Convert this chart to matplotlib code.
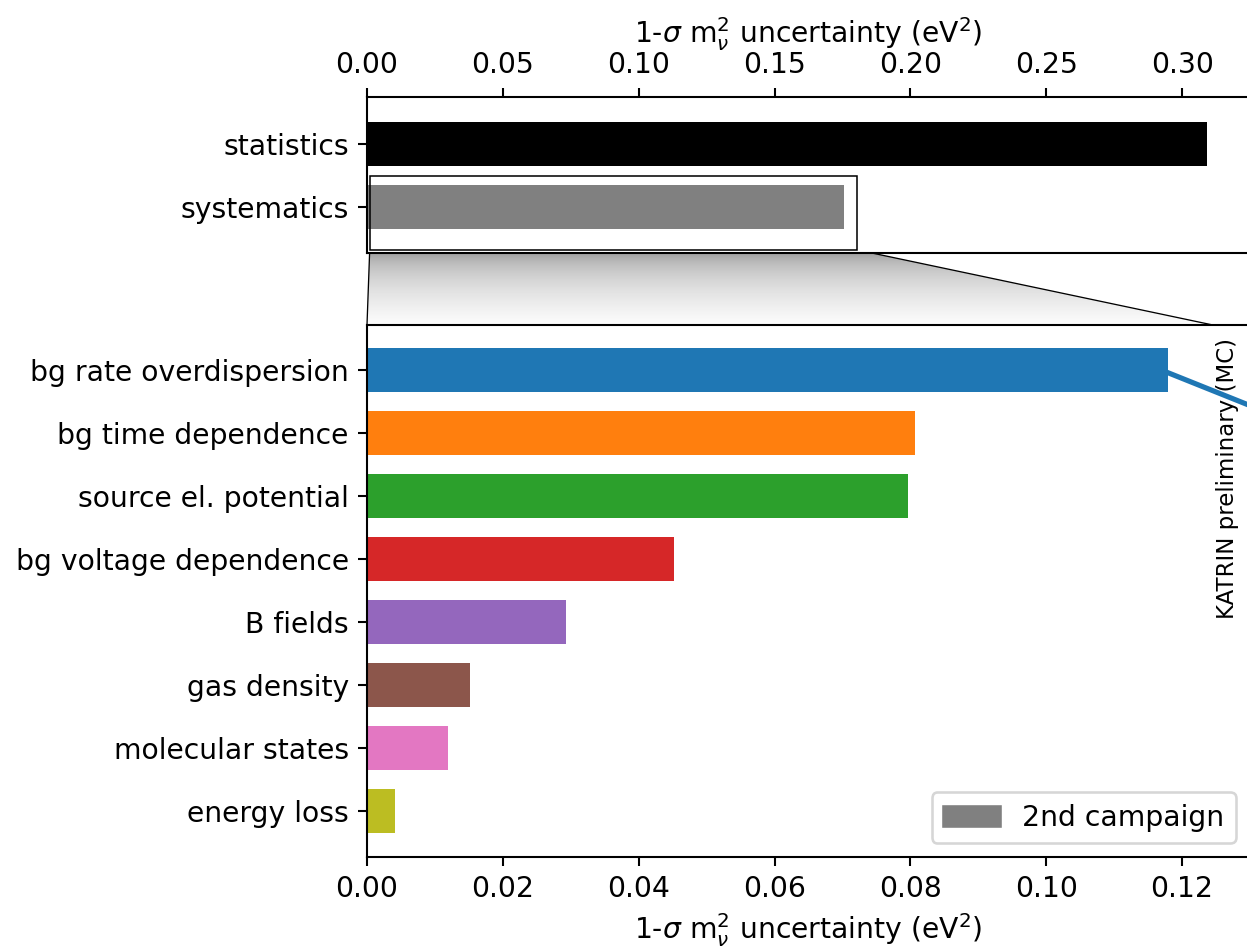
import numpy as np
import matplotlib.pyplot as plt
from matplotlib.patches import Rectangle, Polygon, Patch

# values
top_labels = ["statistics", "systematics"]
top_values = [0.3093, 0.1756]
top_colors = ["black", "gray"]

sys_labels = ["bg rate overdispersion", "bg time dependence", "source el. potential",
              "bg voltage dependence", "B fields", "gas density",
              "molecular states", "energy loss"]
sys_values = [0.1180, 0.0807, 0.0797, 0.0452, 0.0293, 0.0152, 0.0119, 0.0041]
sys_colors = ["C0", "C1", "C2", "C3", "C4", "C5", "C6", "C8"]

top_ticks = [0.00, 0.05, 0.10, 0.15, 0.20, 0.25, 0.30]
bottom_ticks = [0.00, 0.02, 0.04, 0.06, 0.08, 0.10, 0.12]

xlabel = r"1-$\sigma$ m$_{\nu}^{2}$ uncertainty (eV$^{2}$)"

plt.rcParams["font.size"] = 10.9

dpi = 187
fig = plt.figure(figsize=(1247 / dpi, 952 / dpi), dpi=dpi)

ax_top = fig.add_axes([0.2943, 0.7342, 0.7081, 0.1639])
ax_bot = fig.add_axes([0.2943, 0.0998, 0.7081, 0.5588])

# top panel: statistics vs systematics
y_top = np.arange(len(top_labels))
ax_top.barh(y_top, top_values, height=0.7, color=top_colors)
ax_top.set_yticks(y_top)
ax_top.set_yticklabels(top_labels)
ax_top.set_ylim(1.73, -0.75)
ax_top.set_xlim(0, 0.325)
ax_top.set_xticks(top_ticks)
ax_top.xaxis.tick_top()
ax_top.xaxis.set_label_position("top")
ax_top.set_xlabel(xlabel, labelpad=3)

# box around the systematics bar
box = Rectangle((0.001, 0.51), 0.1794, 1.17, fill=False,
                edgecolor="black", linewidth=0.6, zorder=3)
ax_top.add_patch(box)

# bottom panel: breakdown of systematics
y_bot = np.arange(len(sys_labels))
ax_bot.barh(y_bot, sys_values, height=0.7, color=sys_colors)
ax_bot.set_yticks(y_bot)
ax_bot.set_yticklabels(sys_labels)
ax_bot.set_ylim(7.73, -0.71)
ax_bot.set_xlim(0, 0.13)
ax_bot.set_xticks(bottom_ticks)
ax_bot.set_xlabel(xlabel, labelpad=3)
ax_bot.legend(handles=[Patch(color="gray", label="2nd campaign")], loc="lower right")

# line leaving the largest bar
ax_bot.plot([sys_values[0], 0.14], [0.05, 1.0], color="C0", linewidth=2, clip_on=False)

ax_bot.text(0.961, 0.975, "KATRIN preliminary (MC)", transform=ax_bot.transAxes,
            rotation=90, ha="left", va="top", fontsize=8.8)

# zoom trapezoid with gradient
fig.canvas.draw()
to_fig = fig.transFigure.inverted()
p_tl = to_fig.transform(ax_top.transData.transform((0.001, 1.68)))
p_tr = to_fig.transform(ax_top.transData.transform((0.1804, 1.68)))
p_br = to_fig.transform(ax_bot.transAxes.transform((0.958, 1.0)))
p_bl = to_fig.transform(ax_bot.transAxes.transform((0.0, 1.0)))
verts = np.array([p_tl, p_tr, p_br, p_bl])

ov = fig.add_axes([0, 0, 1, 1], zorder=-1)
ov.set_xlim(0, 1)
ov.set_ylim(0, 1)
ov.axis("off")
t = np.linspace(0, 1, 200)[:, None]
shade = 0.42 + 0.57 * t ** 0.35
grad = np.repeat(shade, 2, axis=1)
img = ov.imshow(grad, cmap="gray", vmin=0, vmax=1, aspect="auto",
                extent=[verts[:, 0].min(), verts[:, 0].max(), p_bl[1], p_tl[1]],
                origin="upper")
poly = Polygon(verts, closed=True, facecolor="none", edgecolor="black", linewidth=0.5)
ov.add_patch(poly)
img.set_clip_path(poly)

fig.savefig("out.png", dpi=dpi)
